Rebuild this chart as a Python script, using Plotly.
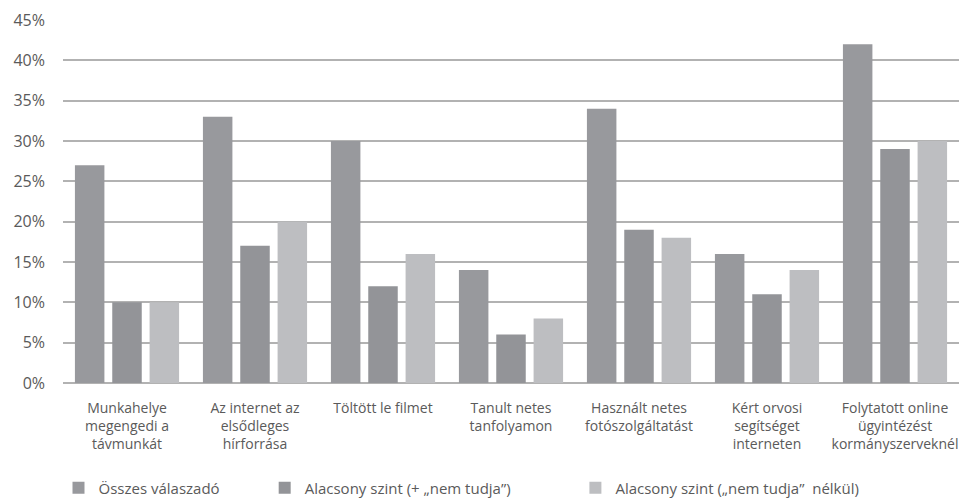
import plotly.graph_objects as go

# Categories (x axis) and the three series, in percent
categories = [
    "Munkahelye<br>megengedi a<br>távmunkát",
    "Az internet az<br>elsődleges<br>hírforrása",
    "Töltött le filmet",
    "Tanult netes<br>tanfolyamon",
    "Használt netes<br>fotószolgáltatást",
    "Kért orvosi<br>segítséget<br>interneten",
    "Folytatott online<br>ügyintézést<br>kormányszerveknél",
]
series_names = [
    "Összes válaszadó",
    "Alacsony szint (+ „nem tudja”)",
    "Alacsony szint („nem tudja”  nélkül)",
]
osszes = [27, 33, 30, 14, 34, 16, 42]
alacsony_plusz = [10, 17, 12, 6, 19, 11, 29]
alacsony_nelkul = [10, 20, 16, 8, 18, 14, 30]
y_ticks = [0, 5, 10, 15, 20, 25, 30, 35, 40, 45]

colors = ["#98999d", "#939498", "#bdbec1"]
text_color = "#5a5a5a"
font_family = "Open Sans"

# Each series gets its own legend box so the entries can be spaced freely
legend_ids = ["legend", "legend2", "legend3"]
legend_x = [0.061, 0.276, 0.600]

fig = go.Figure()
for name, vals, col, lid in zip(series_names, [osszes, alacsony_plusz, alacsony_nelkul], colors, legend_ids):
    fig.add_trace(go.Bar(
        name=name,
        x=categories,
        y=vals,
        marker=dict(color=col, line=dict(width=0)),
        legend=lid,
        showlegend=True,
        hoverinfo="skip",
    ))

legend_common = dict(
    orientation="h",
    xref="container",
    yref="container",
    xanchor="left",
    y=0.026,
    yanchor="middle",
    font=dict(size=15, color=text_color, family=font_family),
    itemwidth=30,
    bgcolor="rgba(0,0,0,0)",
    visible=True,
)

fig.update_layout(
    width=959,
    height=501,
    margin=dict(l=63, r=0, t=20, b=118, autoexpand=False),
    paper_bgcolor="white",
    plot_bgcolor="white",
    showlegend=True,
    barmode="group",
    bargap=0.125,
    bargroupgap=0.21,
    font=dict(family=font_family, color=text_color),
    legend=dict(x=legend_x[0], **legend_common),
    legend2=dict(x=legend_x[1], **legend_common),
    legend3=dict(x=legend_x[2], **legend_common),
    xaxis=dict(
        showgrid=False,
        showline=False,
        ticks="",
        tickfont=dict(size=14, color=text_color),
        ticklabelstandoff=15,
    ),
    yaxis=dict(
        range=[0, 45],
        tickvals=y_ticks,
        ticktext=[f"{v}%" for v in y_ticks],
        showgrid=True,
        gridcolor="#b2b2b2",
        gridwidth=1.5,
        zeroline=True,
        zerolinecolor="#b2b2b2",
        zerolinewidth=1.5,
        showline=False,
        ticks="",
        tickfont=dict(size=16, color=text_color),
        ticklabelstandoff=17,
    ),
)

fig.write_html("out.html")
